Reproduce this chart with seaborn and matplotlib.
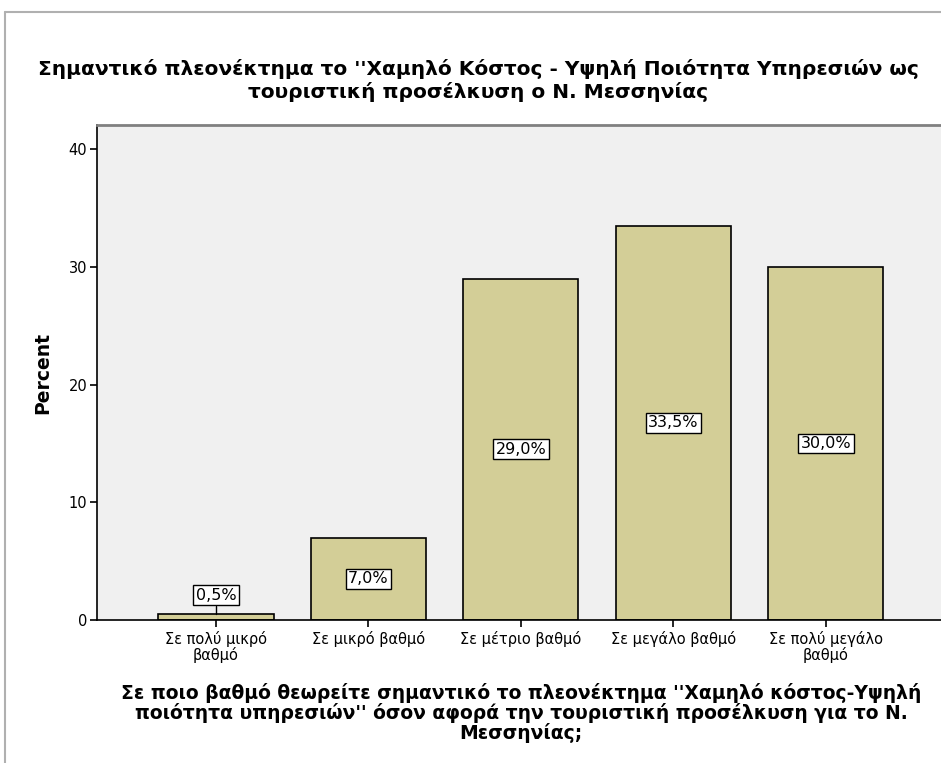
import numpy as np
import pandas as pd
import seaborn as sns
import matplotlib
matplotlib.use("Agg")
from matplotlib import pyplot as plt
from matplotlib.lines import Line2D

categories = ["Σε πολύ μικρό\nβαθμό", "Σε μικρό βαθμό", "Σε μέτριο βαθμό",
              "Σε μεγάλο βαθμό", "Σε πολύ μεγάλο\nβαθμό"]
percent = [0.5, 7.0, 29.0, 33.5, 30.0]
yticks = [0, 10, 20, 30, 40]

title = ("Σημαντικό πλεονέκτημα το ''Χαμηλό Κόστος - Υψηλή Ποιότητα Υπηρεσιών ως\n"
         "τουριστική προσέλκυση ο Ν. Μεσσηνίας")
xlabel = ("Σε ποιο βαθμό θεωρείτε σημαντικό το πλεονέκτημα ''Χαμηλό κόστος-Υψηλή\n"
          "ποιότητα υπηρεσιών'' όσον αφορά την τουριστική προσέλκυση για το Ν.\n"
          "Μεσσηνίας;")

sns.set_style("white")
plt.rcParams['font.family'] = ['DejaVu Sans']
plt.rcParams['text.color'] = 'black'
plt.rcParams['xtick.color'] = 'black'
plt.rcParams['ytick.color'] = 'black'
plt.rcParams['axes.labelcolor'] = 'black'

df = pd.DataFrame({"cat": categories, "pct": percent})

fig = plt.figure(figsize=(9.41, 7.63), dpi=100)
ax = fig.add_axes([97/941, 143/763, 844/941, 495/763])
sns.barplot(data=df, x="cat", y="pct", color="#d3ce97", edgecolor="black",
            linewidth=1.2, width=0.755, saturation=1, ax=ax)
ax.set_facecolor("#f0f0f0")
ax.set_xlim(-0.78, 4.755)
ax.set_ylim(0, 42.05)
ax.set_yticks(yticks)
ax.tick_params(axis="both", length=5, width=1.2, color="black",
               direction="out", left=True, bottom=True)
ax.tick_params(axis="y", labelsize=10.5, pad=2)
ax.tick_params(axis="x", labelsize=10.5, pad=3)
for lab in ax.get_xticklabels():
    lab.set_linespacing(1.0)
ax.set_xlabel("")
ax.set_ylabel("Percent", fontsize=13.5, fontweight="bold", labelpad=12)
for s in ["left", "bottom"]:
    ax.spines[s].set_color("black")
    ax.spines[s].set_linewidth(1.2)
ax.spines["top"].set_color("#808080")
ax.spines["top"].set_linewidth(2)
ax.spines["right"].set_visible(False)

for i, v in enumerate(percent):
    txt = f"{v:.1f}%".replace(".", ",")
    if v < 2:
        ly = v + 1.6
        ax.plot([i, i], [v, ly - 0.9], color="black", lw=1)
    else:
        ly = v / 2
    ax.text(i, ly, txt, ha="center", va="center", fontsize=11.5,
            bbox=dict(boxstyle="square,pad=0.15", fc="white", ec="black", lw=1))

fig.text(0.508, 0.894, title, ha="center", va="center", fontsize=14.5,
         fontweight="bold", linespacing=1.2)
fig.text(0.554, 0.065, xlabel, ha="center", va="center", fontsize=13.5,
         fontweight="bold", linespacing=1.0)

# outer frame lines
fig.add_artist(Line2D([5/941, 1], [1 - 12/763, 1 - 12/763], color="#b0b0b0",
                      lw=1.5, transform=fig.transFigure))
fig.add_artist(Line2D([5/941, 5/941], [0, 1 - 12/763], color="#b0b0b0",
                      lw=1.5, transform=fig.transFigure))

fig.savefig("out.png", dpi=100)
